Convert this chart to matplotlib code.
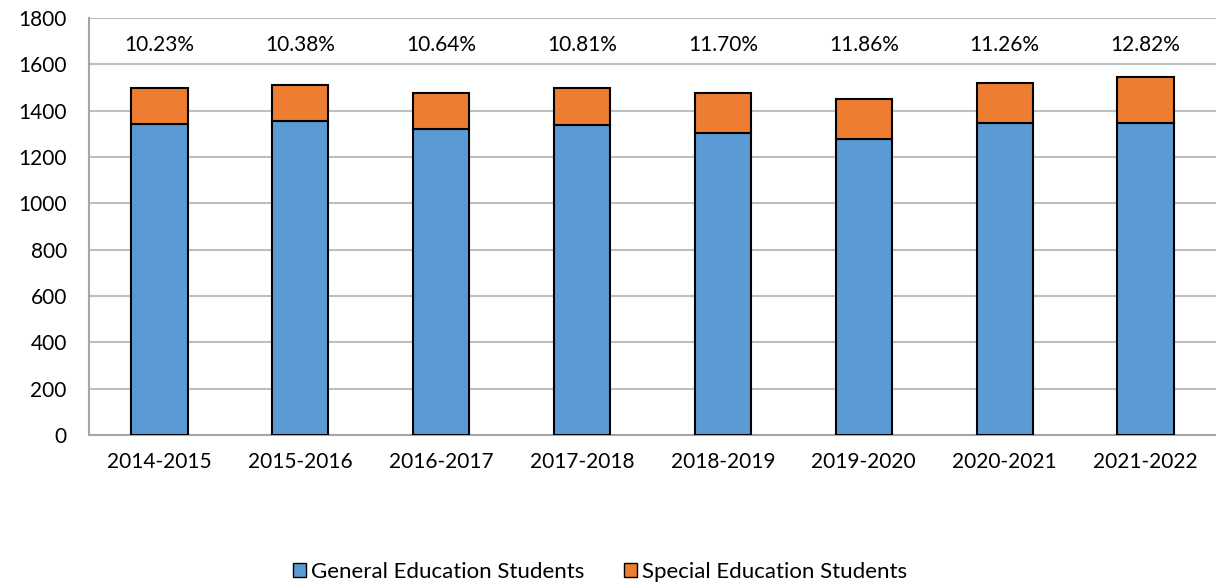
import matplotlib
matplotlib.use("Agg")
import matplotlib.pyplot as plt
import numpy as np
from matplotlib.patches import Patch

years = ["2014-2015", "2015-2016", "2016-2017", "2017-2018",
         "2018-2019", "2019-2020", "2020-2021", "2021-2022"]
general = [1343, 1355, 1319, 1338, 1305, 1278, 1348, 1348]
special = [153, 157, 157, 162, 173, 172, 171, 198]
pct_labels = ["10.23%", "10.38%", "10.64%", "10.81%", "11.70%", "11.86%", "11.26%", "12.82%"]

plt.rcParams['font.family'] = ['Lato', 'DejaVu Sans']

fig = plt.figure(figsize=(12.16, 5.85), dpi=100)
ax = fig.add_axes([89/1216, 1 - 435/585, (1216-89)/1216, (435-18)/585])

blue = "#5B9BD5"
orange = "#ED7D31"
x = np.arange(len(years))
w = 0.40
ax.bar(x, general, w, color=blue, edgecolor="black", linewidth=1.5, zorder=3)
ax.bar(x, special, w, bottom=general, color=orange, edgecolor="black", linewidth=1.5, zorder=3)

for xi, lab in zip(x, pct_labels):
    ax.text(xi, 1685, lab, ha="center", va="center", fontsize=15, color="black")

ax.set_xlim(-0.5, len(years) - 0.5)
ax.set_ylim(0, 1800)
ax.set_yticks(np.arange(0, 1801, 200))
ax.set_xticks(x)
ax.set_xticklabels(years, fontsize=15)
ax.tick_params(axis="y", labelsize=15, length=0, pad=16)
ax.tick_params(axis="x", length=0, pad=12)
ax.yaxis.grid(True, color="#BFBFBF", linewidth=1.5, zorder=0)
ax.set_axisbelow(True)
for s in ["top", "right"]:
    ax.spines[s].set_visible(False)
for s in ["left", "bottom"]:
    ax.spines[s].set_color("#A6A6A6")
    ax.spines[s].set_linewidth(1.5)

handles = [Patch(facecolor=blue, edgecolor="black", label="General Education Students"),
           Patch(facecolor=orange, edgecolor="black", label="Special Education Students")]
fig.legend(handles=handles, loc="center", bbox_to_anchor=(600/1216, 1 - 572/585), ncol=2,
           frameon=False, fontsize=16, handlelength=0.6, handleheight=0.6,
           handletextpad=0.2, columnspacing=1.8)

fig.savefig("out.png", dpi=100)
